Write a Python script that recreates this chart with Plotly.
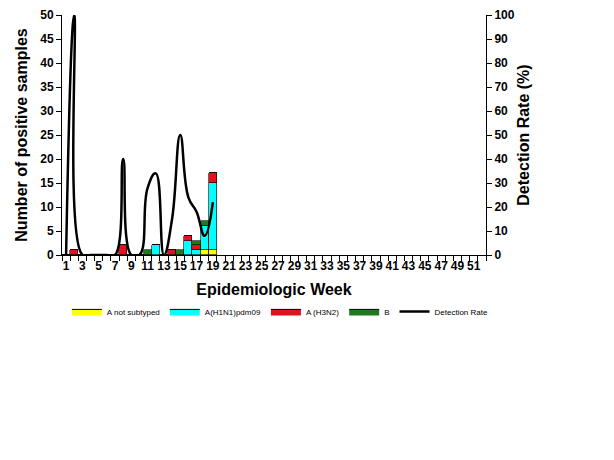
import plotly.graph_objects as go

weeks = list(range(1, 53))
line_weeks = list(range(1, 20))

# counts per week (weeks 1-19, the rest empty)
a_not_subtyped = [0, 0, 0, 0, 0, 0, 0, 0, 0, 0, 0, 0, 0, 0, 0, 0, 0, 1, 1]
a_h1n1pdm09 = [0, 0, 0, 0, 0, 0, 0, 0, 0, 0, 0, 2, 0, 0, 0, 3, 1, 5, 14]
a_h3n2 = [0, 1, 0, 0, 0, 0, 0, 2, 0, 0, 0, 0, 0, 1, 0, 1, 1, 0, 2]
b = [0, 0, 0, 0, 0, 0, 0, 0, 0, 0, 1, 0, 0, 0, 1, 0, 1, 1, 0]
detection_rate = [0, 100, 0, 0, 0, 0, 0, 40, 0, 0, 28, 34, 0, 15, 50, 24, 18, 8, 22]

week_labels = [str(w) for w in range(1, 52, 2)]

font = "Arial, Liberation Sans, sans-serif"

fig = go.Figure()

series = [
    ("A not subtyped", a_not_subtyped, "#FFFF00"),
    ("A(H1N1)pdm09", a_h1n1pdm09, "#00FFFF"),
    ("A (H3N2)", a_h3n2, "#E0141C"),
    ("B", b, "#1F7A1F"),
]
for name, vals, col in series:
    fig.add_trace(go.Bar(
        x=line_weeks, y=vals, name=name, showlegend=False,
        marker=dict(color=col, line=dict(color="#000000", width=0.6)),
        width=1.0,
    ))
    # legend-only entry drawn as a flat rectangle like the original key
    fig.add_trace(go.Scatter(
        x=[None], y=[None], name=name, mode="lines", fill="toself",
        fillcolor=col, line=dict(color="#000000", width=1),
    ))

fig.add_trace(go.Scatter(
    x=line_weeks, y=detection_rate, name="Detection Rate", yaxis="y2",
    mode="lines", line=dict(color="#000000", width=2.5, shape="spline", smoothing=1.3),
))

# page body adds an 8px offset, margins below take it into account
fig.update_layout(
    width=614, height=460,
    barmode="stack", bargap=0,
    plot_bgcolor="white", paper_bgcolor="white",
    margin=dict(l=54, r=136, t=7, b=213),
    font=dict(family=font, color="#000000"),
    showlegend=True,
    legend=dict(
        orientation="h", x=0.515, xanchor="center", y=-0.235, yanchor="middle",
        font=dict(size=8, family=font), itemwidth=30,
        traceorder="normal",
    ),
    xaxis=dict(
        range=[0.5, 52.5], automargin=False,
        tickmode="array", tickvals=[int(t) for t in week_labels], ticktext=week_labels,
        ticks="", showline=True, linecolor="#000000", linewidth=1,
        showgrid=False, zeroline=False,
        tickfont=dict(size=12, family=font, weight="bold"),
        minor=dict(tickvals=[w - 0.5 for w in weeks] + [52.5], ticks="outside",
                   ticklen=5, tickcolor="#000000", showgrid=False),
        title=dict(text="<b>Epidemiologic Week</b>", font=dict(size=16, family=font), standoff=11),
    ),
    yaxis=dict(
        range=[0, 50], dtick=5, automargin=False,
        ticks="outside", ticklen=5, tickcolor="#000000",
        showline=True, linecolor="#000000", linewidth=1,
        showgrid=False, zeroline=False,
        tickfont=dict(size=12, family=font, weight="bold"),
        title=dict(text="<b>Number of positive samples</b>", font=dict(size=16, family=font), standoff=8),
    ),
    yaxis2=dict(
        range=[0, 100], dtick=10, overlaying="y", side="right", automargin=False,
        ticks="outside", ticklen=5, tickcolor="#000000",
        showline=True, linecolor="#000000", linewidth=1,
        showgrid=False, zeroline=False,
        tickfont=dict(size=12, family=font, weight="bold"),
        title=dict(text="<b>Detection Rate (%)</b>", font=dict(size=16, family=font), standoff=4),
    ),
)

fig.write_html("out.html")
